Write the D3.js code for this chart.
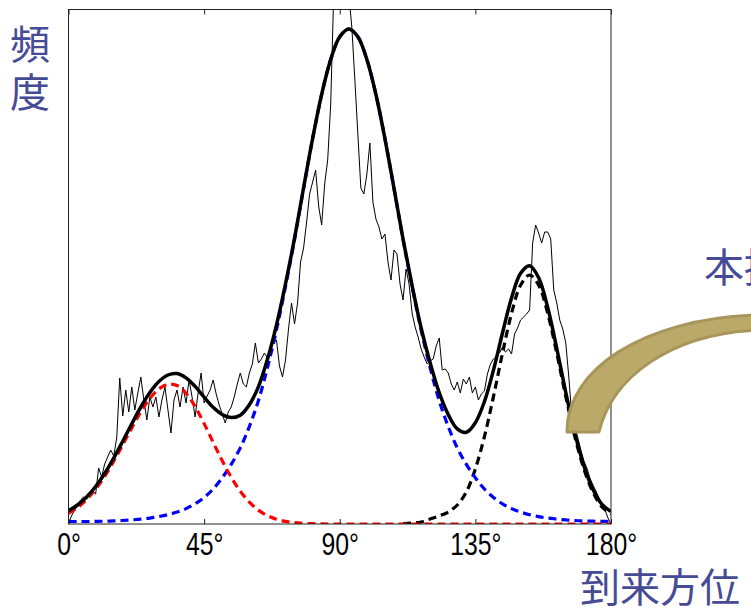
<!DOCTYPE html>
<html>
<head>
<meta charset="utf-8">
<script src="https://cdn.jsdelivr.net/npm/d3@7"></script>
<style>
  body { margin: 0; background: #fff; }
  svg { display: block; }
</style>
</head>
<body>
<div id="chart"></div>
<script>
// x ticks (degrees)
const xTicks = [0, 45, 90, 135, 180];

// measured histogram, one value per degree 0..180
const histDeg = d3.range(0, 181);
const histCounts = [
  0, 8, 14, 19, 24, 27, 25, 30, 33, 30,
  56, 47, 60, 67, 74, 68, 86, 146, 108, 134,
  112, 137, 114, 131, 147, 124, 104, 127, 117, 127,
  107, 124, 137, 114, 91, 124, 134, 117, 137, 121,
  144, 127, 107, 131, 151, 121, 128, 134, 144, 130,
  119, 110, 101, 112, 117, 127, 140, 151, 140, 137,
  151, 160, 181, 161, 165, 171, 166, 177, 181, 184,
  158, 147, 164, 195, 221, 200, 221, 262, 276, 302,
  330, 342, 354, 318, 299, 340, 364, 420, 530, 540,
  535, 545, 540, 530, 497, 445, 390, 336, 330, 350,
  381, 322, 305, 297, 285, 290, 262, 244, 274, 270,
  240, 224, 255, 240, 211, 197, 187, 175, 167, 160,
  163, 165, 178, 186, 154, 155, 151, 140, 134, 142,
  131, 145, 140, 147, 131, 137, 124, 130, 133, 150,
  160, 165, 168, 171, 177, 172, 175, 170, 190, 196,
  204, 207, 210, 214, 281, 299, 291, 281, 292, 292,
  285, 234, 221, 204, 195, 181, 147, 108, 97, 86,
  74, 63, 56, 46, 39, 33, 26, 20, 14, 6,
  0
];

// fitted components, every 3 degrees 0..180
const fitDeg = d3.range(0, 181, 3);
const fitRed = [
  10.7, 16.5, 24.5, 34.9, 47.7, 62.8, 79.3, 96.1, 112.1, 125.6,
  135.1, 139.7, 138.5, 130.7, 117.4, 100.4, 81.7, 63.3, 46.7, 32.7,
  21.9, 13.9, 8.4, 4.8, 2.6, 1.4, 0.7, 0.3, 0.1, 0,
  0, 0, 0, 0, 0, 0, 0, 0, 0, 0,
  0, 0, 0, 0, 0, 0, 0, 0, 0, 0,
  0, 0, 0, 0, 0, 0, 0, 0, 0, 0,
  0
];
const fitBlue = [
  2.5, 2.5, 2.5, 2.6, 2.8, 3.1, 3.5, 4.1, 4.9, 5.9,
  7.4, 9.3, 11.9, 15.4, 20.2, 26.5, 35.0, 46.2, 59.7, 76.1,
  97.4, 123.3, 156.1, 194, 237.5, 284.5, 335.6, 385.2, 429.5, 464.5,
  487.2, 495, 487.2, 464.5, 429.5, 385.2, 335.6, 284.5, 237.5, 194,
  156.1, 123.3, 97.4, 76.1, 59.7, 46.2, 35.0, 26.5, 20.2, 15.4,
  11.9, 9.3, 7.4, 5.9, 4.9, 4.1, 3.5, 3.1, 2.8, 2.6,
  2.5
];
// third component only drawn where it was plotted (from ~111 deg on)
const fitBlack = [
  null, null, null, null, null, null, null, null, null, null,
  null, null, null, null, null, null, null, null, null, null,
  null, null, null, null, null, null, null, null, null, null,
  null, null, null, null, null, null, null, 0.5, 1, 2,
  5, 8, 12, 19, 32, 55.2, 87.4, 127.4, 170.8, 210.6,
  238.8, 249, 238.8, 210.6, 170.8, 127.4, 87.4, 55.2, 32, 17.1,
  10
];
const fitTotal = [
  13.2, 19.0, 27.0, 37.5, 50.5, 65.9, 82.8, 100.2, 117.0, 131.5,
  142.5, 149.0, 150.4, 146.1, 137.6, 126.9, 116.7, 109.5, 106.4, 108.8,
  119.3, 137.2, 164.5, 198.8, 240.1, 285.9, 336.3, 385.5, 429.6, 464.5,
  487.2, 495, 487.2, 464.5, 429.5, 385.2, 335.6, 285.0, 238.5, 196,
  161.1, 131.3, 109.4, 95.1, 91.7, 101.4, 122.4, 153.9, 191.0, 226.0,
  250.7, 258.3, 246.2, 216.5, 175.7, 131.5, 90.9, 58.3, 34.8, 19.7,
  12.5
];

function drawChart() {
  const width = 751, height = 608;
  const plot = { left: 68.5, right: 611, top: 9.5, bottom: 524 };
  const textBlue = '#464b95';

  const svg = d3.select('#chart').append('svg')
    .attr('width', width)
    .attr('height', height);

  const x = d3.scaleLinear().domain([0, 180]).range([plot.left, plot.right]);
  const y = d3.scaleLinear().domain([0, 514.5]).range([plot.bottom, plot.top]);

  svg.append('clipPath').attr('id', 'plot-clip')
    .append('rect')
    .attr('x', plot.left).attr('y', plot.top)
    .attr('width', plot.right - plot.left).attr('height', plot.bottom - plot.top);

  const g = svg.append('g').attr('clip-path', 'url(#plot-clip)');

  // thin histogram line
  const histLine = d3.line().x((d, i) => x(histDeg[i])).y(d => y(d));
  g.append('path')
    .datum(histCounts)
    .attr('fill', 'none')
    .attr('stroke', '#000')
    .attr('stroke-width', 1)
    .attr('d', histLine);

  // fitted curves
  const fitLine = d3.line()
    .defined(d => d !== null)
    .x((d, i) => x(fitDeg[i]))
    .y(d => y(d))
    .curve(d3.curveCatmullRom);

  const comps = [
    { data: fitBlack, color: '#000' },
    { data: fitBlue, color: '#0000ff' },
    { data: fitRed, color: '#ff0000' }
  ];
  comps.forEach(c => {
    g.append('path')
      .datum(c.data)
      .attr('fill', 'none')
      .attr('stroke', c.color)
      .attr('stroke-width', 3.2)
      .attr('stroke-dasharray', '8,5')
      .attr('d', fitLine);
  });

  g.append('path')
    .datum(fitTotal)
    .attr('fill', 'none')
    .attr('stroke', '#000')
    .attr('stroke-width', 3.5)
    .attr('d', fitLine);

  // frame
  svg.append('rect')
    .attr('x', plot.left).attr('y', plot.top)
    .attr('width', plot.right - plot.left).attr('height', plot.bottom - plot.top)
    .attr('fill', 'none')
    .attr('stroke', '#222')
    .attr('stroke-width', 1);

  // ticks inside, bottom with labels, top without
  const bottomAxis = svg.append('g')
    .attr('transform', `translate(0,${plot.bottom})`)
    .call(d3.axisBottom(x).tickValues(xTicks).tickSizeInner(-5).tickSizeOuter(0).tickFormat(d => d + '°'));
  const topAxis = svg.append('g')
    .attr('transform', `translate(0,${plot.top})`)
    .call(d3.axisTop(x).tickValues(xTicks).tickSizeInner(-5).tickSizeOuter(0).tickFormat(''));

  [bottomAxis, topAxis].forEach(a => {
    a.select('.domain').remove();
    a.selectAll('line').attr('stroke', '#222');
  });
  bottomAxis.selectAll('text')
    .attr('y', 31)
    .attr('dy', 0)
    .attr('fill', '#000')
    .attr('font-family', '"Liberation Sans", Arial, sans-serif')
    .attr('font-size', 31)
    .attr('transform', 'scale(0.8,1)');

  // curved arrow (decoration)
  svg.append('path')
    .attr('d', 'M567,432 C566,372 640,318 760,315 L760,330 C670,333 612,378 599,432 Z')
    .attr('fill', '#bba96a')
    .attr('stroke', '#a8955a')
    .attr('stroke-width', 3)
    .attr('stroke-linejoin', 'round');

  // japanese labels
  const jp = '"Noto Sans CJK JP", "Noto Sans CJK SC", sans-serif';
  svg.append('text').attr('x', 10).attr('y', 59).text('頻')
    .attr('font-family', jp).attr('font-size', 40).attr('fill', textBlue);
  svg.append('text').attr('x', 10).attr('y', 107).text('度')
    .attr('font-family', jp).attr('font-size', 40).attr('fill', textBlue);
  svg.append('text').attr('x', 580).attr('y', 602).text('到来方位')
    .attr('font-family', jp).attr('font-size', 40).attr('fill', textBlue);
  svg.append('text').attr('x', 704).attr('y', 282).text('本提案手法')
    .attr('font-family', jp).attr('font-size', 40).attr('fill', textBlue);
}

drawChart();
</script>
</body>
</html>
